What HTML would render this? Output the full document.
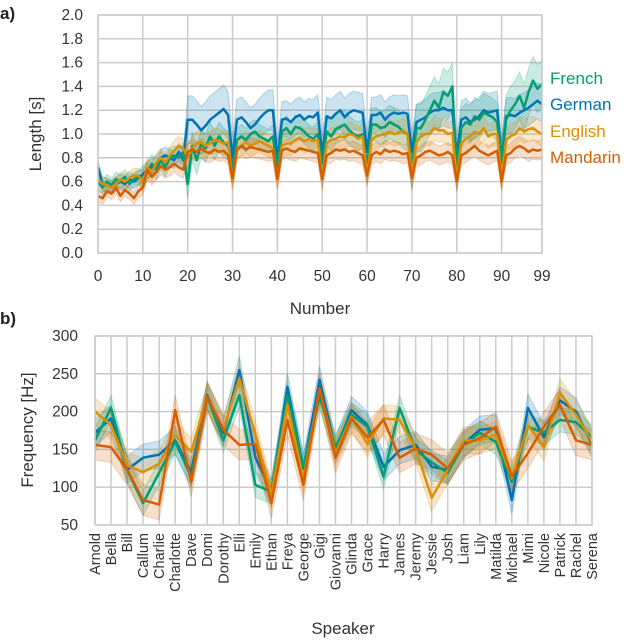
<!DOCTYPE html>
<html><head><meta charset="utf-8"><style>
body{margin:0;background:#fff}
svg{display:block;font-family:"Liberation Sans","DejaVu Sans",sans-serif}
</style></head><body>
<svg id="chart" width="640" height="642" viewBox="0 0 640 642">
<g id="pa"></g>
<g id="pb"></g>
</svg>
<script>
const NS="http://www.w3.org/2000/svg";
// ---------- Panel a data ----------
const numbers=[];for(let i=0;i<100;i++)numbers.push(i);
const german=[0.72,0.58,0.57,0.55,0.58,0.6,0.58,0.62,0.6,0.63,
0.66,0.7,0.72,0.75,0.8,0.82,0.8,0.78,0.85,0.78,
1.12,1.12,1.08,1.03,1.07,1.12,1.15,1.18,1.21,1.16,
0.8,1.12,1.14,1.1,1.05,1.08,1.13,1.17,1.2,1.2,
0.78,1.12,1.13,1.1,1.14,1.16,1.12,1.15,1.14,1.18,
0.82,1.15,1.13,1.17,1.2,1.14,1.18,1.2,1.19,1.18,
0.85,1.16,1.16,1.18,1.12,1.16,1.18,1.17,1.18,1.17,
0.85,1.1,1.12,1.14,1.18,1.2,1.2,1.22,1.2,1.2,
0.82,1.12,1.14,1.1,1.12,1.15,1.2,1.18,1.19,1.2,
0.78,1.15,1.16,1.15,1.18,1.2,1.22,1.25,1.28,1.25];
const french=[0.6,0.55,0.6,0.57,0.62,0.6,0.64,0.58,0.62,0.64,
0.62,0.68,0.75,0.7,0.78,0.72,0.8,0.82,0.8,0.85,
0.58,0.9,0.78,0.92,0.88,0.98,0.9,0.98,0.93,0.9,
0.72,0.95,0.98,0.95,1.0,1.02,0.98,0.96,0.94,0.98,
0.72,1.02,1.05,1.0,1.06,1.05,1.02,0.98,0.96,1.0,
0.75,1.02,0.98,1.04,1.06,1.08,1.03,1.0,0.98,1.0,
0.72,1.08,1.08,1.05,1.06,1.1,1.08,1.06,1.02,1.0,
0.72,1.05,1.05,1.12,1.2,1.28,1.22,1.35,1.32,1.4,
0.68,1.05,1.1,1.08,1.15,1.12,1.18,1.16,1.14,1.1,
0.75,1.12,1.2,1.25,1.32,1.22,1.35,1.45,1.38,1.42];
const english=[0.62,0.58,0.57,0.55,0.58,0.62,0.6,0.63,0.65,0.65,
0.6,0.72,0.68,0.76,0.8,0.76,0.82,0.86,0.9,0.88,
0.8,0.88,0.92,0.93,0.9,0.92,0.95,0.94,0.92,0.93,
0.6,0.88,0.9,0.93,0.9,0.92,0.94,0.92,0.9,0.88,
0.62,0.9,0.92,0.92,0.95,0.97,0.94,0.96,0.94,0.95,
0.62,0.92,0.95,0.96,0.98,0.97,1.0,0.99,0.96,0.98,
0.65,0.95,0.98,0.99,1.0,1.02,1.0,1.01,1.03,1.0,
0.65,0.93,0.98,1.0,1.0,1.05,1.03,1.03,1.0,1.01,
0.62,0.92,0.96,0.98,1.02,1.0,1.05,0.98,1.0,1.0,
0.62,0.95,0.98,1.0,1.05,1.02,1.04,1.05,1.02,1.0];
const mandarin=[0.48,0.46,0.52,0.5,0.55,0.48,0.53,0.5,0.46,0.52,
0.55,0.7,0.64,0.68,0.73,0.7,0.72,0.75,0.72,0.7,
0.85,0.87,0.85,0.88,0.85,0.84,0.87,0.85,0.86,0.82,
0.63,0.87,0.9,0.87,0.89,0.88,0.87,0.86,0.85,0.86,
0.62,0.86,0.88,0.86,0.85,0.88,0.87,0.86,0.85,0.84,
0.62,0.82,0.84,0.87,0.86,0.87,0.85,0.86,0.84,0.82,
0.65,0.82,0.85,0.83,0.87,0.85,0.86,0.85,0.83,0.84,
0.63,0.8,0.82,0.85,0.86,0.84,0.82,0.83,0.85,0.82,
0.6,0.82,0.84,0.87,0.9,0.86,0.84,0.82,0.84,0.86,
0.6,0.82,0.84,0.88,0.9,0.88,0.85,0.87,0.86,0.87];
// band half-widths per decade
const germanSpread=[0.06,0.07,0.2,0.17,0.15,0.16,0.15,0.15,0.16,0.15];
const frenchSpread=[0.06,0.08,0.12,0.1,0.1,0.12,0.14,0.2,0.16,0.2];
const englishSpread=[0.06,0.08,0.1,0.09,0.1,0.1,0.1,0.1,0.1,0.1];
const mandarinSpread=[0.05,0.07,0.08,0.08,0.08,0.08,0.08,0.08,0.08,0.08];
const yTicksA=[0,0.2,0.4,0.6,0.8,1.0,1.2,1.4,1.6,1.8,2.0];
const xTicksA=[0,10,20,30,40,50,60,70,80,90,99];
// ---------- Panel b data ----------
const speakers=["Arnold","Bella","Bill","Callum","Charlie","Charlotte","Dave","Domi","Dorothy","Elli","Emily","Ethan","Freya","George","Gigi","Giovanni","Glinda","Grace","Harry","James","Jeremy","Jessie","Josh","Liam","Lily","Matilda","Michael","Mimi","Nicole","Patrick","Rachel","Serena"];
const freqGerman=[172,191,123,139,143,162,120,222,172,255,140,92,233,125,242,149,202,182,127,149,156,127,123,157,176,178,83,205,166,215,200,157];
const freqFrench=[162,205,123,79,119,160,114,220,162,222,103,94,222,127,220,153,196,180,114,205,149,133,119,156,172,160,107,180,172,189,186,166];
const freqEnglish=[200,182,129,120,131,169,147,220,176,244,170,90,209,110,231,145,193,157,191,189,151,86,123,162,162,169,112,182,153,225,196,160];
const freqMandarin=[156,153,123,83,77,202,107,220,176,156,157,79,189,103,231,139,191,166,189,139,151,143,125,156,165,180,114,145,180,209,162,156];
const freqSpread=[18,16,18,20];
const yTicksB=[50,100,150,200,250,300];

const COL={german:"#0173b2",french:"#029e73",english:"#de8f05",mandarin:"#d55e00"};
const GRID="#cccccc";

function mk(tag,attrs,parent){const e=document.createElementNS(NS,tag);for(const k in attrs)e.setAttribute(k,attrs[k]);parent.appendChild(e);return e;}
function txt(parent,x,y,s,size,anchor,extra){const t=mk("text",Object.assign({x:x,y:y,"font-size":size,"text-anchor":anchor||"middle",fill:"#333"},extra||{}),parent);t.textContent=s;return t;}

// ---------- Panel a ----------
const pa=document.getElementById("pa");
const A={l:98,r:542,t:15,b:253};
const ax=v=>A.l+(v/99)*(A.r-A.l);
const ay=v=>A.b-(v/2)*(A.b-A.t);
yTicksA.forEach(v=>{
 const g=mk("line",{x1:A.l,x2:A.r,y1:ay(v),y2:ay(v),stroke:GRID,"stroke-width":1.5},pa);
 
 
 const t=txt(pa,A.l-15,ay(v)+5,v.toFixed(1),15.5,"end");
 
 
});
xTicksA.forEach(v=>{
 const g=mk("line",{x1:ax(v),x2:ax(v),y1:A.t,y2:A.b,stroke:GRID,"stroke-width":1.5},pa);
 
 
 const t=txt(pa,ax(v),A.b+28,String(v),15.5,"middle");
 
 
});
const seriesA=[["german",german,germanSpread],["french",french,frenchSpread],["english",english,englishSpread],["mandarin",mandarin,mandarinSpread]];
seriesA.forEach(([name,vals,sp])=>{
 let up="",lo="";
 vals.forEach((v,i)=>{up+=(i?"L":"M")+ax(numbers[i]).toFixed(1)+","+ay(v+sp[Math.floor(i/10)]).toFixed(1);});
 for(let i=vals.length-1;i>=0;i--){lo+="L"+ax(numbers[i]).toFixed(1)+","+ay(vals[i]-sp[Math.floor(i/10)]).toFixed(1);}
 const b=mk("path",{d:up+lo+"Z",fill:COL[name],"fill-opacity":0.2,stroke:COL[name],"stroke-opacity":0.25},pa);
 
 
});
seriesA.forEach(([name,vals])=>{
 const d=vals.map((v,i)=>(i?"L":"M")+ax(numbers[i]).toFixed(1)+","+ay(v).toFixed(1)).join("");
 const p=mk("path",{d:d,fill:"none",stroke:COL[name],"stroke-width":2.5,"stroke-linejoin":"round"},pa);
 
 
});
const fa=mk("rect",{x:A.l,y:A.t,width:A.r-A.l,height:A.b-A.t,fill:"none",stroke:GRID,"stroke-width":1.5},pa);


[["French","french",84],["German","german",110],["English","english",137],["Mandarin","mandarin",163]].forEach(([lab,k,y])=>{
 const t=txt(pa,550,y,lab,17,"start",{fill:COL[k]});
 
 
});
let t=txt(pa,320,314,"Number",17,"middle");


t=txt(pa,0,0,"Length [s]",17,"middle",{transform:"translate(41,134) rotate(-90)"});


t=txt(pa,0,19,"a)",17,"start",{"font-weight":"bold",fill:"#222"});



// ---------- Panel b ----------
const pb=document.getElementById("pb");
const B={l:95,r:592,t:336,b:525};
const bx=i=>B.l+i*(B.r-B.l)/(speakers.length-1);
const by=v=>B.b-(v-50)/250*(B.b-B.t);
yTicksB.forEach(v=>{
 const g=mk("line",{x1:B.l,x2:B.r,y1:by(v),y2:by(v),stroke:GRID,"stroke-width":1.5},pb);
 
 
 const tt=txt(pb,B.l-17,by(v)+5,String(v),15.5,"end");
 
 
});
speakers.forEach((s,i)=>{
 const g=mk("line",{x1:bx(i),x2:bx(i),y1:B.t,y2:B.b,stroke:GRID,"stroke-width":1.5},pb);
 
 
 const tt=txt(pb,0,0,s,14.5,"end",{transform:"translate("+(bx(i)+5)+","+(B.b+8)+") rotate(-90)"});
 
 
});
const seriesB=[["german",freqGerman,freqSpread[0]],["french",freqFrench,freqSpread[1]],["english",freqEnglish,freqSpread[2]],["mandarin",freqMandarin,freqSpread[3]]];
seriesB.forEach(([name,vals,sp])=>{
 let up="",lo="";
 vals.forEach((v,i)=>{up+=(i?"L":"M")+bx(i).toFixed(1)+","+by(v+sp).toFixed(1);});
 for(let i=vals.length-1;i>=0;i--){lo+="L"+bx(i).toFixed(1)+","+by(vals[i]-sp).toFixed(1);}
 const b=mk("path",{d:up+lo+"Z",fill:COL[name],"fill-opacity":0.2,stroke:COL[name],"stroke-opacity":0.25},pb);
 
 
});
seriesB.forEach(([name,vals])=>{
 const d=vals.map((v,i)=>(i?"L":"M")+bx(i).toFixed(1)+","+by(v).toFixed(1)).join("");
 const p=mk("path",{d:d,fill:"none",stroke:COL[name],"stroke-width":2.5,"stroke-linejoin":"round"},pb);
 
 
});
const fb=mk("rect",{x:B.l,y:B.t,width:B.r-B.l,height:B.b-B.t,fill:"none",stroke:GRID,"stroke-width":1.5},pb);


t=txt(pb,343,634,"Speaker",17,"middle");


t=txt(pb,0,0,"Frequency [Hz]",17,"middle",{transform:"translate(33,430) rotate(-90)"});


t=txt(pb,0,324,"b)",17,"start",{"font-weight":"bold",fill:"#222"});


</script>
</body></html>
